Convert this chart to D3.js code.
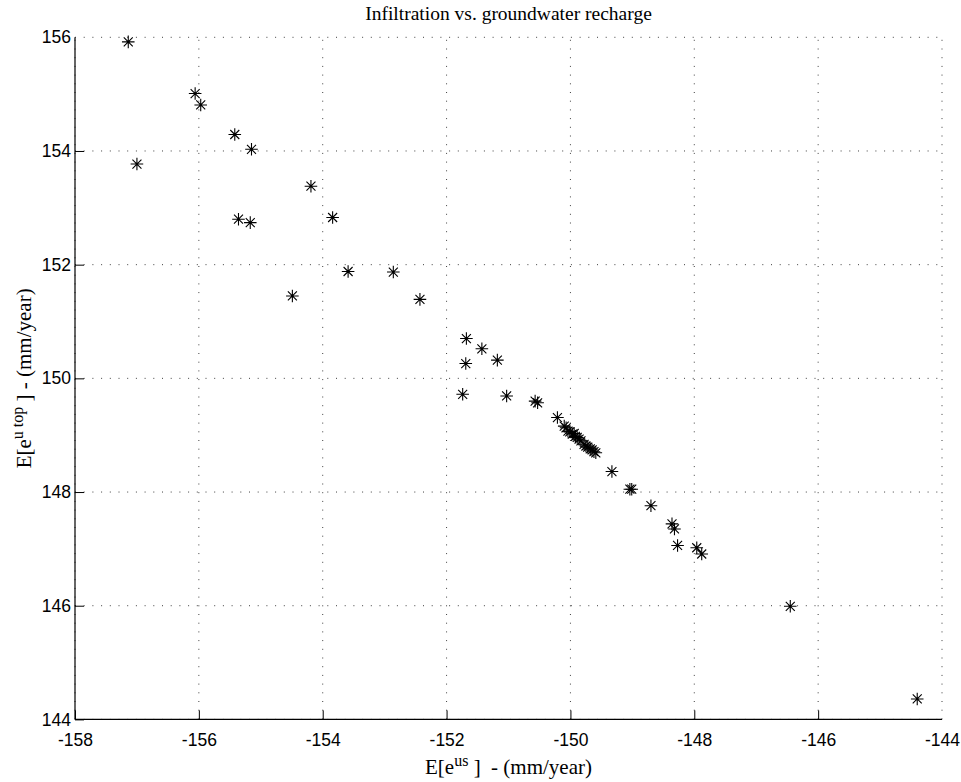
<!DOCTYPE html>
<html><head><meta charset="utf-8">
<script src="https://cdn.jsdelivr.net/npm/d3@7/dist/d3.min.js"></script>
<style>body{margin:0;background:#fff}svg{display:block}</style>
</head><body>
<svg id="c" width="961" height="782"></svg>
<script>
const title = "Infiltration vs. groundwater recharge";
const xTicks = [-158,-156,-154,-152,-150,-148,-146,-144];
const yTicks = [144,146,148,150,152,154,156];
const xValues = [-157.14,-157.00,-156.06,-155.97,-155.42,-155.15,-154.19,-155.36,-155.17,-153.84,
  -154.49,-153.59,-152.86,-152.43,-151.68,-151.43,-151.69,-151.18,-151.74,-151.03,
  -150.57,-150.53,-150.21,-150.10,
  -150.07,-150.04,-150.01,-149.97,-149.94,-149.92,-149.89,-149.86,-149.83,-149.78,-149.75,-149.72,-149.68,-149.65,-149.62,-149.59,
  -149.33,-149.04,-149.01,-148.70,-148.36,-148.32,-148.27,-147.96,-147.88,-146.45,-144.40];
const yValues = [155.92,153.77,155.01,154.81,154.29,154.03,153.38,152.80,152.74,152.83,
  151.45,151.88,151.87,151.39,150.70,150.52,150.26,150.32,149.72,149.69,
  149.60,149.57,149.31,149.16,
  149.13,149.07,149.06,149.02,149.03,148.98,148.96,148.93,148.90,148.84,148.81,148.79,148.76,148.74,148.71,148.69,
  148.36,148.05,148.05,147.76,147.44,147.35,147.06,147.02,146.91,145.99,144.36];

const svg = d3.select("#c");
const L = 75, R = 942, T = 37.3, B = 719.4;
const x = d3.scaleLinear().domain([-158,-144]).range([L,R]);
const y = d3.scaleLinear().domain([144,156]).range([B,T]);

// grid
const g = svg.append("g");
g.selectAll("line.gx").data(xTicks).enter().append("line")
  .attr("x1",d=>x(d)).attr("x2",d=>x(d)).attr("y1",B).attr("y2",T)
  .attr("stroke","#000").attr("stroke-width",1).attr("stroke-dasharray","1 7.7").attr("opacity",0.75);
g.selectAll("line.gy").data(yTicks).enter().append("line")
  .attr("y1",d=>y(d)).attr("y2",d=>y(d)).attr("x1",L).attr("x2",R)
  .attr("stroke","#000").attr("stroke-width",1).attr("stroke-dasharray","1 7.7").attr("opacity",0.75);

// axes
const xAxis = d3.axisBottom(x).tickValues(xTicks).tickSize(-9).tickPadding(14).tickFormat(d=>d3.format("d")(d).replace("−","-"));
const yAxis = d3.axisLeft(y).tickValues(yTicks).tickSize(-9).tickPadding(4).tickFormat(d3.format("d"));
const ax = svg.append("g").attr("transform",`translate(0,${B})`).call(xAxis);
const ay = svg.append("g").attr("transform",`translate(${L},0)`).call(yAxis);
[ax,ay].forEach(a=>{
  a.selectAll("text").attr("font-family","'Liberation Sans', Arial, sans-serif").attr("font-size",17.5).attr("fill","#000");
  a.selectAll(".tick line").attr("stroke","#000");
  a.select(".domain").attr("stroke","#000").attr("stroke-width",1.2);
});
ay.select(".domain").attr("d",`M0,${B}V${T}`);
ax.select(".domain").attr("d",`M${L},0H${R}`);
ax.selectAll(".tick").filter(d=>d===-144).select("line").remove();
ay.selectAll(".tick").filter(d=>d===156).select("line").remove();

// markers (asterisk)
const a = 6.3, dg = 4.5;
const star = `M${-a},0H${a}M0,${-a}V${a}M${-dg},${-dg}L${dg},${dg}M${-dg},${dg}L${dg},${-dg}`;
svg.append("g").selectAll("path").data(xValues.map((v,i)=>[v,yValues[i]])).enter().append("path")
  .attr("d",star).attr("transform",d=>`translate(${x(d[0])},${y(d[1])})`)
  .attr("stroke","#000").attr("stroke-width",1.1).attr("fill","none");

// title
svg.append("text").attr("x",(L+R)/2).attr("y",20).attr("text-anchor","middle")
  .attr("font-family","'Liberation Serif', 'Times New Roman', serif").attr("font-size",19.5).text(title);

// x label
const xl = svg.append("text").attr("x",(L+R)/2).attr("y",774).attr("text-anchor","middle")
  .attr("font-family","'Liberation Serif', 'Times New Roman', serif").attr("font-size",21);
xl.append("tspan").text("E[e");
xl.append("tspan").attr("dy",-8).attr("font-size",16).text("us");
xl.append("tspan").attr("dy",8).text("\u00a0]\u00a0\u00a0- (mm/year)");

// y label
const yl = svg.append("text").attr("transform",`translate(31,${(T+B)/2}) rotate(-90)`).attr("text-anchor","middle")
  .attr("font-family","'Liberation Serif', 'Times New Roman', serif").attr("font-size",21);
yl.append("tspan").text("E[e");
yl.append("tspan").attr("dy",-8).attr("font-size",16).text("u top");
yl.append("tspan").attr("dy",8).text("\u00a0] - (mm/year)");
</script>
</body></html>
